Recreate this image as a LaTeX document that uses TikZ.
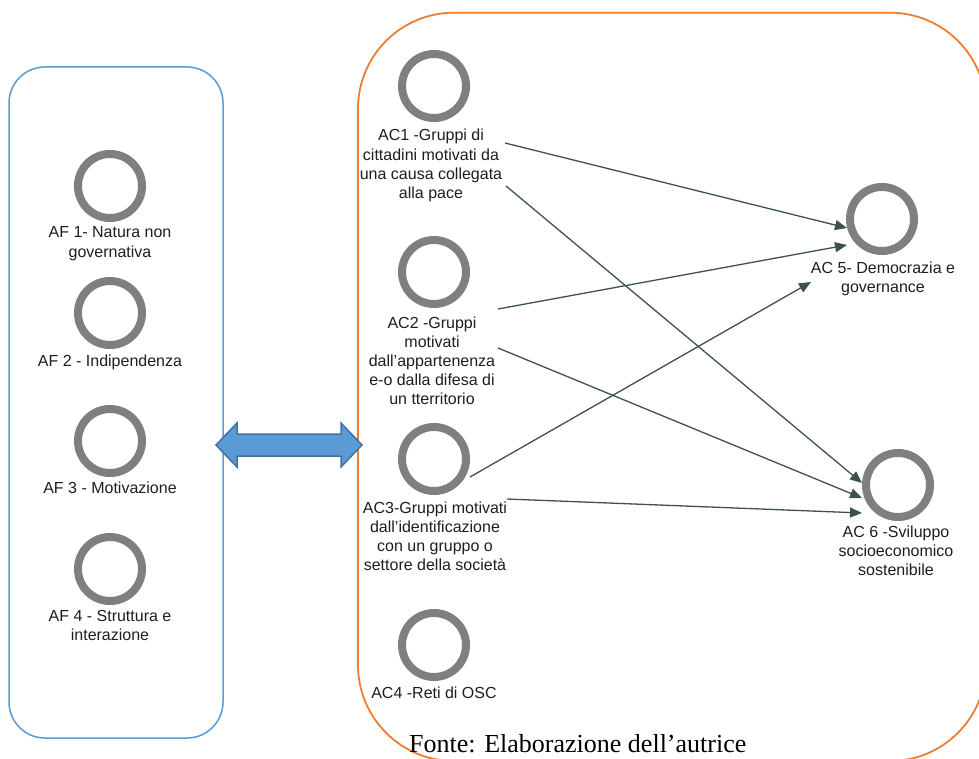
\documentclass[tikz,border=0pt]{standalone}
\usepackage{fontspec}
\setmainfont{Liberation Sans}
\newfontfamily\capfont{Liberation Serif}
\usetikzlibrary{arrows.meta}
\definecolor{ringgray}{HTML}{7F7F7F}
\definecolor{boxblue}{HTML}{5B9BD5}
\definecolor{boxorange}{HTML}{ED7D31}
\definecolor{arrowfill}{HTML}{5B9BD5}
\definecolor{arrowedge}{HTML}{41719C}
\definecolor{linkcol}{HTML}{3E524D}
\definecolor{textcol}{HTML}{1E1E1E}
% centred lines whose reference point is the first baseline
\newcommand\lblines[1]{\vtop{\halign{\hfil##\hfil\cr#1\crcr}}}

\begin{document}
\begin{tikzpicture}[x=1pt,y=-1pt,
  ring/.style={circle,draw=ringgray,line width=8pt,minimum size=64pt,inner sep=0pt},
  lbl/.style={anchor=base,inner sep=0pt,
    font=\fontsize{16}{19.2}\selectfont,text=textcol},
  link/.style={draw=linkcol,line width=1.3pt,-{Triangle[length=12pt,width=10pt]}}]
\useasboundingbox (0,0) rectangle (979,759);

% frames of the two groups
\begin{scope}
  \clip (0,0) rectangle (979,759);
  \draw[boxorange,line width=1.8pt,rounded corners=96pt] (358,12.7) rectangle (986,761);
\end{scope}
\draw[boxblue,line width=1.5pt,rounded corners=36pt] (9,67) rectangle (223,738);

% two-way block arrow between the groups
\filldraw[fill=arrowfill,draw=arrowedge,line width=1.5pt,line join=miter]
  (216,445) -- (237,423) -- (237,434) -- (341,434) -- (341,423) -- (362,445)
  -- (341,467) -- (341,456) -- (237,456) -- (237,467) -- cycle;

% left group
\node[ring] (af1) at (110,186) {};
\node[lbl] (af1t) at (110,238) {\lblines{AF 1- Natura non\cr governativa}};
\node[ring] (af2) at (110,313) {};
\node[lbl] (af2t) at (110,366) {AF 2 - Indipendenza};
\node[ring] (af3) at (110,441) {};
\node[lbl] (af3t) at (110,493) {AF 3 - Motivazione};
\node[ring] (af4) at (110,569) {};
\node[lbl] (af4t) at (110,621) {\lblines{AF 4 - Struttura e\cr interazione}};

% right group, actors
\node[ring] (ac1) at (434,86) {};
\node[lbl] (ac1t) at (431,141) {\lblines{AC1 -Gruppi di\cr cittadini motivati da\cr una causa collegata\cr alla pace}};
\node[ring] (ac2) at (434,272) {};
\node[lbl] (ac2t) at (432,328) {\lblines{AC2 -Gruppi\cr motivati\cr dall'appartenenza\cr e-o dalla difesa di\cr un tterritorio}};
\node[ring] (ac3) at (434,459) {};
\node[lbl] (ac3t) at (435,513) {\lblines{AC3-Gruppi motivati\cr dall'identificazione\cr con un gruppo o\cr settore della società}};
\node[ring] (ac4) at (434,645) {};
\node[lbl] (ac4t) at (434,698) {AC4 -Reti di OSC};

% right group, outcomes
\node[ring] (ac5) at (882,219) {};
\node[lbl] (ac5t) at (883,273) {\lblines{AC 5- Democrazia e\cr governance}};
\node[ring] (ac6) at (898,485) {};
\node[lbl] (ac6t) at (896,537) {\lblines{AC 6 -Sviluppo\cr socioeconomico\cr sostenibile}};

% link end points
\coordinate (s1a) at (505,143);
\coordinate (s1b) at (506,186);
\coordinate (s2a) at (498,309);
\coordinate (s2b) at (498,348);
\coordinate (s3a) at (470,477);
\coordinate (s3b) at (507,499);
\coordinate (e5a) at (847,228);
\coordinate (e5b) at (847,245);
\coordinate (e5c) at (811,282);
\coordinate (e6a) at (862,483);
\coordinate (e6b) at (862,498);
\coordinate (e6c) at (862,513);

\draw[link] (s1a) -- (e5a);
\draw[link] (s1b) -- (e6a);
\draw[link] (s2a) -- (e5b);
\draw[link] (s2b) -- (e6b);
\draw[link] (s3a) -- (e5c);
\draw[link] (s3b) -- (e6c);

% source note
\node[anchor=base west,inner sep=0pt,font=\capfont\fontsize{26}{30}\selectfont] (src)
  at (409,752) {Fonte: Elaborazione dell’autrice};
\end{tikzpicture}
\end{document}
